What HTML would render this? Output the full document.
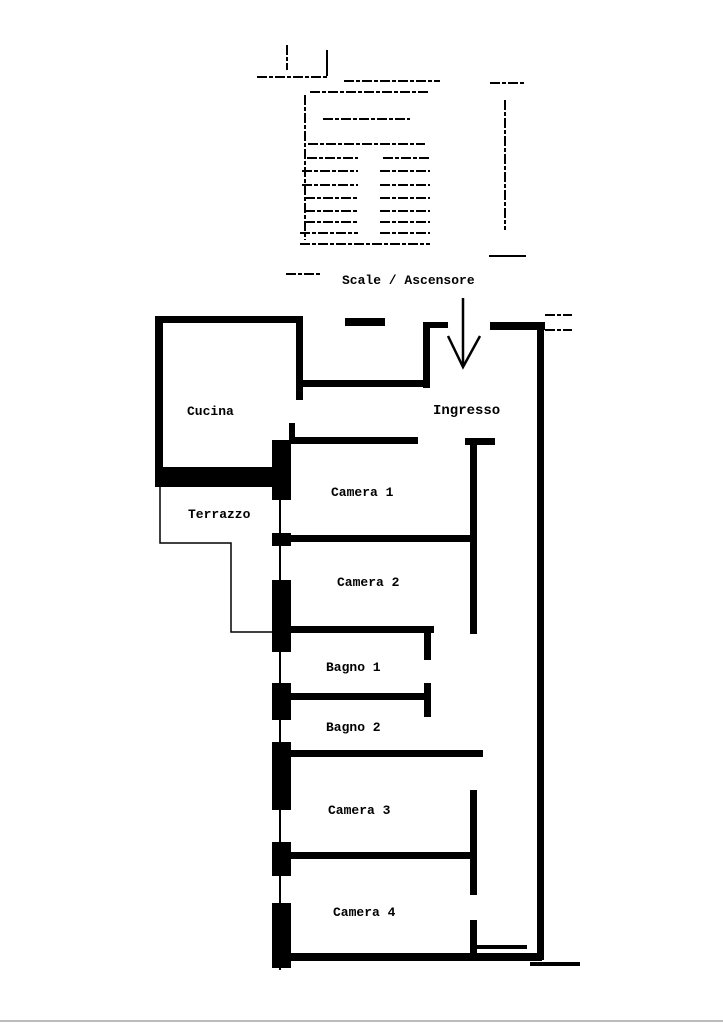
<!DOCTYPE html>
<html><head><style>
html,body{margin:0;padding:0;background:#fff}
svg{display:block}
text{font-family:"Liberation Mono",monospace;font-weight:bold;font-size:13px;fill:#000}
</style></head><body>
<svg width="723" height="1024" viewBox="0 0 723 1024" xmlns="http://www.w3.org/2000/svg">
<rect width="723" height="1024" fill="#fff"/>
<g stroke="#000" stroke-width="2" fill="none" stroke-dasharray="10 2 4 2">
<line x1="257" y1="77" x2="328" y2="77"/>
<line x1="344" y1="81" x2="440" y2="81"/>
<line x1="310" y1="92" x2="428" y2="92"/>
<line x1="323" y1="119" x2="410" y2="119"/>
<line x1="308" y1="144" x2="425" y2="144"/>
<line x1="307" y1="158" x2="358" y2="158"/>
<line x1="383" y1="158" x2="430" y2="158"/>
<line x1="302" y1="171" x2="358" y2="171"/>
<line x1="380" y1="171" x2="430" y2="171"/>
<line x1="302" y1="185" x2="358" y2="185"/>
<line x1="380" y1="185" x2="430" y2="185"/>
<line x1="305" y1="198" x2="358" y2="198"/>
<line x1="380" y1="198" x2="430" y2="198"/>
<line x1="305" y1="211" x2="358" y2="211"/>
<line x1="380" y1="211" x2="430" y2="211"/>
<line x1="305" y1="222" x2="358" y2="222"/>
<line x1="380" y1="222" x2="430" y2="222"/>
<line x1="300" y1="233" x2="358" y2="233"/>
<line x1="380" y1="233" x2="430" y2="233"/>
<line x1="300" y1="244" x2="430" y2="244"/>
<line x1="490" y1="83" x2="525" y2="83"/>
<line x1="505" y1="100" x2="505" y2="230"/>
<line x1="305" y1="95" x2="305" y2="240"/>
<line x1="287" y1="45" x2="287" y2="70"/>
<line x1="286" y1="274" x2="322" y2="274"/>
<line x1="545" y1="315" x2="572" y2="315"/>
<line x1="545" y1="330" x2="572" y2="330"/>
</g>
<line x1="489" y1="256" x2="526" y2="256" stroke="#000" stroke-width="2"/>
<line x1="327" y1="50" x2="327" y2="76" stroke="#000" stroke-width="2"/>
<text x="342" y="284">Scale / Ascensore</text>
<g stroke="#000" stroke-width="2.5" fill="none">
<line x1="463" y1="298" x2="463" y2="367"/>
<polyline points="448,336 463,367 480,336"/>
</g>
<polyline points="160,487 160,543 231,543 231,632 282,632" stroke="#000" stroke-width="1.5" fill="none"/>
<line x1="280" y1="440" x2="280" y2="970" stroke="#000" stroke-width="2"/>
<g fill="#000">
<rect x="155" y="316" width="148" height="7"/>
<rect x="155" y="316" width="8" height="170"/>
<rect x="155" y="467" width="135" height="20"/>
<rect x="296" y="318" width="7" height="82"/>
<rect x="298" y="380" width="132" height="7"/>
<rect x="423" y="322" width="7" height="66"/>
<rect x="423" y="322" width="25" height="6"/>
<rect x="345" y="318" width="40" height="8"/>
<rect x="490" y="322" width="55" height="8"/>
<rect x="537" y="322" width="7" height="638"/>
<rect x="272" y="953" width="270" height="8"/>
<rect x="530" y="962" width="50" height="4"/>
<rect x="272" y="440" width="19" height="60"/>
<rect x="289" y="423" width="6" height="20"/>
<rect x="272" y="533" width="19" height="13"/>
<rect x="272" y="580" width="19" height="72"/>
<rect x="272" y="683" width="19" height="37"/>
<rect x="272" y="742" width="19" height="68"/>
<rect x="272" y="842" width="19" height="34"/>
<rect x="272" y="903" width="19" height="65"/>
<rect x="290" y="437" width="128" height="7"/>
<rect x="290" y="535" width="184" height="7"/>
<rect x="290" y="626" width="144" height="7"/>
<rect x="424" y="626" width="7" height="34"/>
<rect x="290" y="693" width="140" height="7"/>
<rect x="424" y="683" width="7" height="34"/>
<rect x="290" y="750" width="193" height="7"/>
<rect x="290" y="852" width="184" height="7"/>
<rect x="470" y="440" width="7" height="194"/>
<rect x="465" y="438" width="30" height="7"/>
<rect x="470" y="790" width="7" height="105"/>
<rect x="470" y="920" width="7" height="36"/>
<rect x="477" y="945" width="50" height="4"/>
</g>
<rect x="0" y="1020" width="723" height="2" fill="#bbb"/>
<text x="187" y="415">Cucina</text>
<text x="433" y="414" style="font-size:14px">Ingresso</text>
<text x="331" y="496">Camera 1</text>
<text x="188" y="518">Terrazzo</text>
<text x="337" y="586">Camera 2</text>
<text x="326" y="671">Bagno 1</text>
<text x="326" y="731">Bagno 2</text>
<text x="328" y="814">Camera 3</text>
<text x="333" y="916">Camera 4</text>
</svg>
</body></html>
